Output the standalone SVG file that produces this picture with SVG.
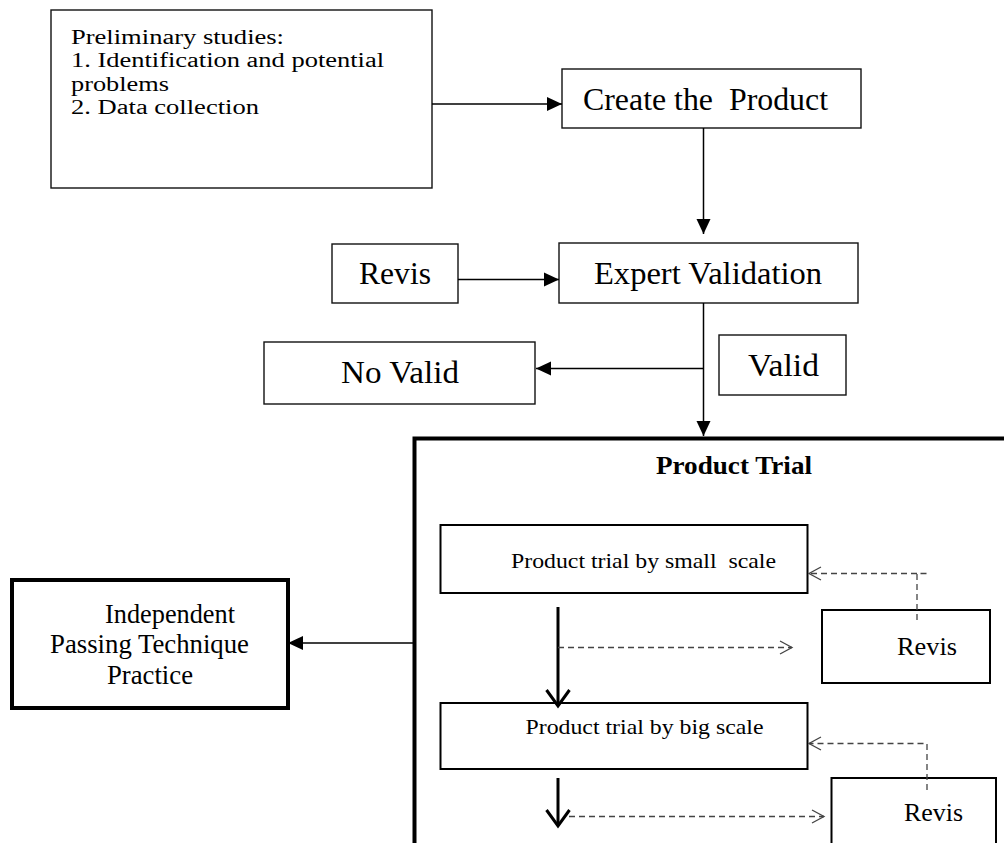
<svg xmlns="http://www.w3.org/2000/svg" width="1004" height="843" viewBox="0 0 1004 843">
<defs>
<marker id="tri" markerUnits="userSpaceOnUse" markerWidth="15" markerHeight="14" refX="15" refY="7" orient="auto" overflow="visible">
<path d="M0,0 L15,7 L0,14 Z" fill="#000"/>
</marker>
<marker id="chev" markerUnits="userSpaceOnUse" markerWidth="14" markerHeight="14" refX="12" refY="7" orient="auto" overflow="visible">
<path d="M0,0.5 L12,7 L0,13.5" fill="none" stroke="#444" stroke-width="1.3"/>
</marker>
</defs>
<style>
.thin{fill:#fff;stroke:#111;stroke-width:1.4}
.mid{fill:#fff;stroke:#000;stroke-width:2}
.thick{fill:#fff;stroke:#000;stroke-width:4}
text{font-family:"Liberation Serif","Times New Roman",serif;fill:#000;white-space:pre}
.big{font-size:31px}
.pre{font-size:20px}
.inner{font-size:21px}
.conn{fill:none;stroke:#000;stroke-width:1.5}
.dash{fill:none;stroke:#444;stroke-width:1.3;stroke-dasharray:6 4}
.bold{fill:none;stroke:#000;stroke-width:3}
</style>
<rect width="1004" height="843" fill="#fff"/>

<g id="product-trial">
<path d="M414.5,843 L414.5,438.5 L1004,438.5" fill="none" stroke="#000" stroke-width="4"/>
<text x="734" y="474" font-size="26" font-weight="bold" text-anchor="middle" textLength="156" lengthAdjust="spacingAndGlyphs">Product Trial</text>
</g>

<g id="preliminary">
<rect class="thin" x="51" y="10" width="381" height="178"/>
<text class="pre" x="71" y="43.5" textLength="213" lengthAdjust="spacingAndGlyphs">Preliminary studies:</text>
<text class="pre" x="71" y="67" textLength="313" lengthAdjust="spacingAndGlyphs">1. Identification and potential</text>
<text class="pre" x="71" y="90.5" textLength="98" lengthAdjust="spacingAndGlyphs">problems</text>
<text class="pre" x="71" y="114" textLength="188" lengthAdjust="spacingAndGlyphs">2. Data collection</text>
</g>

<g id="create">
<rect class="thin" x="562" y="69" width="299" height="59"/>
<text class="big" x="583" y="110" textLength="245" lengthAdjust="spacingAndGlyphs" xml:space="preserve">Create the  Product</text>
</g>

<g id="revis-top">
<rect class="thin" x="332" y="244" width="126" height="59"/>
<text class="big" x="359" y="284" textLength="72" lengthAdjust="spacingAndGlyphs">Revis</text>
</g>

<g id="expert">
<rect class="thin" x="559" y="243" width="299" height="60"/>
<text class="big" x="594" y="284" textLength="228" lengthAdjust="spacingAndGlyphs">Expert Validation</text>
</g>

<g id="no-valid">
<rect class="thin" x="264" y="342" width="271" height="62"/>
<text class="big" x="341" y="383" textLength="118" lengthAdjust="spacingAndGlyphs">No Valid</text>
</g>

<g id="valid">
<rect class="thin" x="719" y="335" width="127" height="60"/>
<text class="big" x="748" y="376" textLength="71" lengthAdjust="spacingAndGlyphs">Valid</text>
</g>

<g id="independent">
<rect class="thick" x="12" y="580" width="276" height="128"/>
<text font-size="26.5" x="105" y="623" textLength="130" lengthAdjust="spacingAndGlyphs">Independent</text>
<text font-size="26.5" x="50" y="653" textLength="199" lengthAdjust="spacingAndGlyphs">Passing Technique</text>
<text font-size="26.5" x="107" y="684" textLength="86" lengthAdjust="spacingAndGlyphs">Practice</text>
</g>

<g id="small-scale">
<rect class="mid" x="440.5" y="525" width="367" height="68"/>
<text class="inner" x="511" y="568" textLength="265" lengthAdjust="spacingAndGlyphs" xml:space="preserve">Product trial by small  scale</text>
</g>

<g id="revis-1">
<rect class="mid" x="822" y="610" width="168" height="73"/>
<text font-size="25" x="897" y="655" textLength="60" lengthAdjust="spacingAndGlyphs">Revis</text>
</g>

<g id="big-scale">
<rect class="mid" x="440.5" y="703" width="367" height="66"/>
<text class="inner" x="525.5" y="734" textLength="238" lengthAdjust="spacingAndGlyphs">Product trial by big scale</text>
</g>

<g id="revis-2">
<rect class="mid" x="831.5" y="778" width="164.5" height="80"/>
<text font-size="25" x="904" y="821" textLength="59" lengthAdjust="spacingAndGlyphs">Revis</text>
</g>

<g id="connectors">
<line class="conn" x1="432" y1="104" x2="562" y2="104" marker-end="url(#tri)"/>
<line class="conn" x1="703.5" y1="128" x2="703.5" y2="234" marker-end="url(#tri)"/>
<line class="conn" x1="458" y1="279.5" x2="559" y2="279.5" marker-end="url(#tri)"/>
<line class="conn" x1="703.5" y1="303" x2="703.5" y2="436" marker-end="url(#tri)"/>
<line class="conn" x1="703.5" y1="368.5" x2="536" y2="368.5" marker-end="url(#tri)"/>
<line class="conn" x1="413" y1="643" x2="288" y2="643" marker-end="url(#tri)"/>

<line class="bold" x1="558" y1="607" x2="558" y2="706"/>
<polyline class="bold" points="546.5,690 558,706 569.5,690"/>
<line class="dash" x1="558" y1="647.5" x2="792" y2="647.5" marker-end="url(#chev)"/>
<path class="dash" d="M917,620 L917,573.5 L928,573.5 M917,573.5 L809,573.5" marker-end="url(#chev)"/>

<line class="bold" x1="558" y1="778" x2="558" y2="826"/>
<polyline class="bold" points="546.5,810 558,826 569.5,810"/>
<line class="dash" x1="569" y1="816.5" x2="824" y2="816.5" marker-end="url(#chev)"/>
<path class="dash" d="M927,790 L927,743.5 L809,743.5" marker-end="url(#chev)"/>
</g>
</svg>
